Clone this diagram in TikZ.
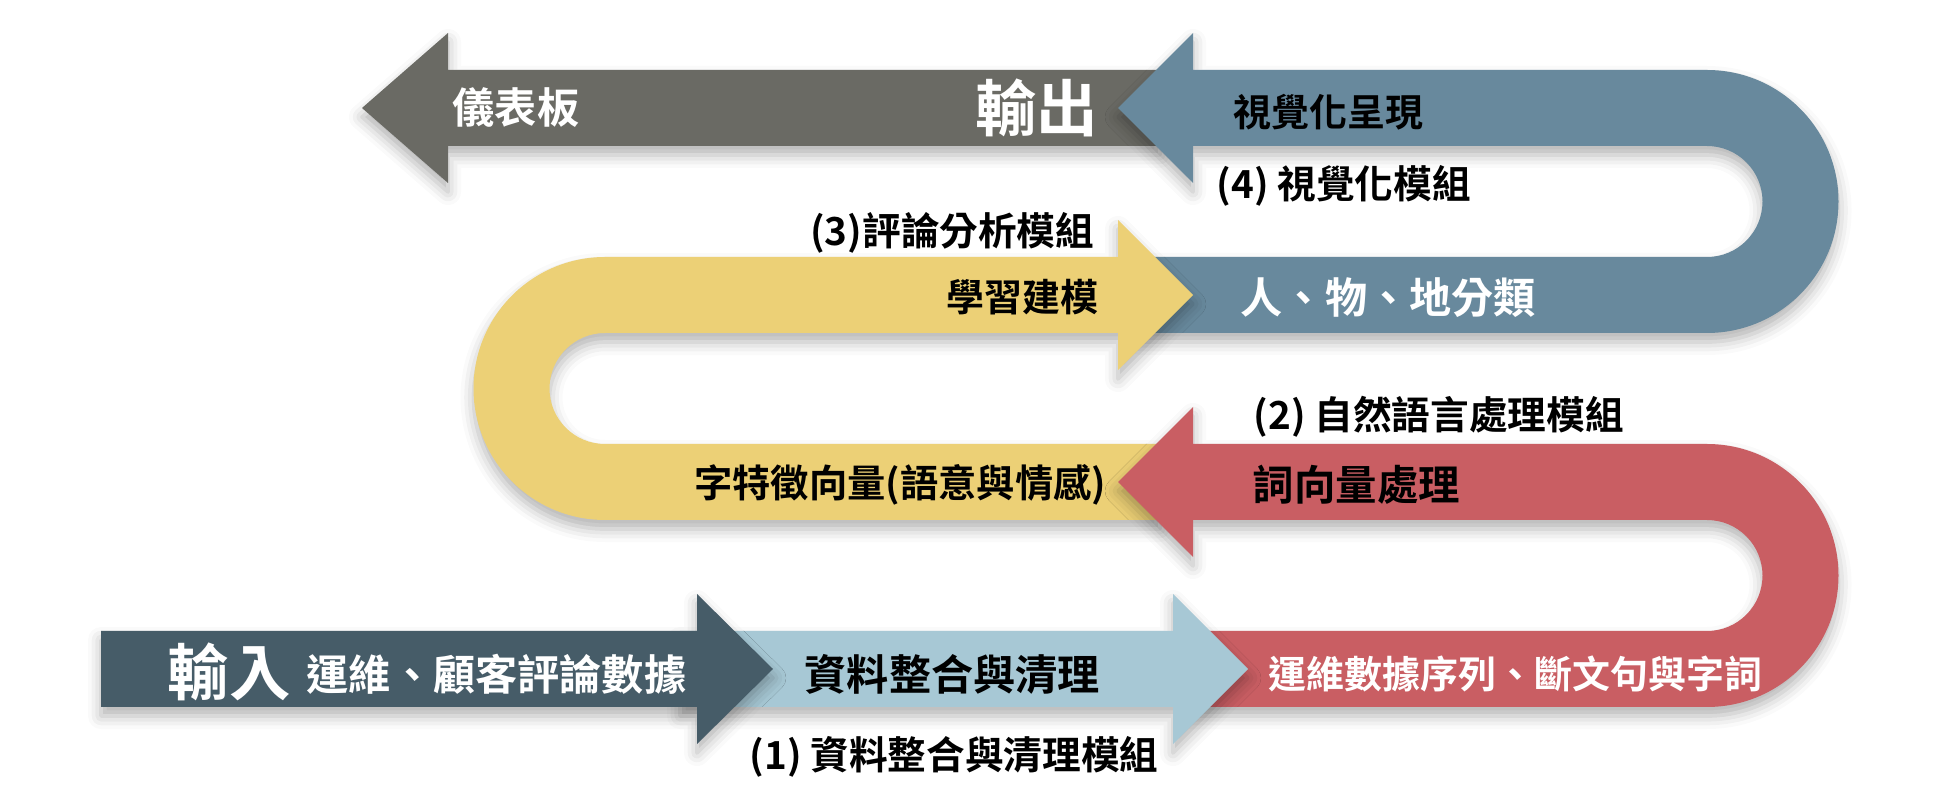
\documentclass[tikz,border=0pt]{standalone}
\usepackage{fontspec}
\newfontfamily\cjk{Noto Sans CJK TC}[BoldFont={Noto Sans CJK TC Bold}]
\usepackage{xcolor}
\usepackage{tikz}
\usetikzlibrary{shadows.blur}

\definecolor{outgray}{HTML}{6A6A64}
\definecolor{visblue}{HTML}{68899D}
\definecolor{anayellow}{HTML}{ECD076}
\definecolor{nlpred}{HTML}{C95E63}
\definecolor{cleanblue}{HTML}{A7C8D5}
\definecolor{inslate}{HTML}{465C68}

\newcommand{\fsz}[1]{\fontsize{#1}{#1}\selectfont}

\begin{document}
\begin{tikzpicture}[
                x=0.1mm, y=-0.1mm,
                band/.style={blur shadow={shadow xshift=0mm, shadow yshift=-0.9mm,
                    shadow blur radius=1.3mm, shadow opacity=30}},
                lbl/.style={inner sep=0pt, font=\cjk\bfseries\fsz{11pt}},
                lblw/.style={lbl, text=white},
                big/.style={inner sep=0pt, text=white, font=\cjk\bfseries\fsz{17.5pt}}
            ]
                \useasboundingbox (0,0) rectangle (1940,808);

                % output (dashboard)
                \fill[outgray, band] (362,108) -- (448,33) -- (448,70) -- (1160,70)
                    -- (1160,146) -- (448,146) -- (448,183) -- cycle;

                % (4) visualization
                \fill[visblue, band] (1118,108) -- (1193,33) -- (1193,70) -- (1707,70)
                    arc[start angle=90, end angle=-90, radius=13.15mm] -- (1140,333)
                    -- (1140,257) -- (1707,257)
                    arc[start angle=-90, end angle=90, radius=5.55mm] -- (1193,146)
                    -- (1193,183) -- cycle;

                % (3) analysis
                \fill[anayellow, band] (1193,295) -- (1118,220) -- (1118,257) -- (605,257)
                    arc[start angle=90, end angle=270, radius=13.15mm] -- (1160,520)
                    -- (1160,444) -- (605,444)
                    arc[start angle=270, end angle=90, radius=5.55mm] -- (1118,333)
                    -- (1118,370) -- cycle;

                % (2) nlp
                \fill[nlpred, band] (1118,482) -- (1193,407) -- (1193,444) -- (1707,444)
                    arc[start angle=90, end angle=-90, radius=13.15mm] -- (1190,707)
                    -- (1190,631) -- (1707,631)
                    arc[start angle=-90, end angle=90, radius=5.55mm] -- (1193,520)
                    -- (1193,557) -- cycle;

                % (1) cleaning
                \fill[cleanblue, band] (680,631) -- (1173,631) -- (1173,594) -- (1248,669)
                    -- (1173,744) -- (1173,707) -- (680,707) -- cycle;

                % input
                \fill[inslate, band] (101,631) -- (697,631) -- (697,594) -- (773,669)
                    -- (697,744) -- (697,707) -- (101,707) -- cycle;

                \node[lblw, anchor=west, font=\cjk\bfseries\fsz{12pt}] (dash) at (452,108) {儀表板};
                \node[big, anchor=east] (out) at (1099,108) {輸出};
                \node[lbl, anchor=west, font=\cjk\bfseries\fsz{10.8pt}] (visshow) at (1233,112) {視覺化呈現};
                \node[lbl, anchor=west] (mod4) at (1216,186) {(4) 視覺化模組};
                \node[lbl, anchor=east] (mod3) at (1095,233) {(3)評論分析模組};
                \node[lbl, anchor=east, font=\cjk\bfseries\fsz{10.8pt}] (learn) at (1099,297) {學習建模};
                \node[lblw, anchor=west, font=\cjk\bfseries\fsz{12pt}] (classify) at (1240,298) {人、物、地分類};
                \node[lbl, anchor=west] (mod2) at (1253,417) {(2) 自然語言處理模組};
                \node[lbl, anchor=west, font=\cjk\bfseries\fsz{11.8pt}] (wordvec) at (1252,485) {詞向量處理};
                \node[lbl, anchor=east, font=\cjk\bfseries\fsz{10.9pt}] (charvec) at (1107,485) {字特徵向量(語意與情感)};
                \node[big, anchor=west] (in) at (167,672) {輸入};
                \node[lblw, anchor=west, font=\cjk\bfseries\fsz{12pt}] (rawdata) at (306,674) {運維、顧客評論數據};
                \node[lbl, anchor=west, font=\cjk\bfseries\fsz{12pt}] (clean) at (804,674) {資料整合與清理};
                \node[lbl, anchor=west] (mod1) at (749,757) {(1) 資料整合與清理模組};
                \node[lblw, anchor=west, font=\cjk\bfseries\fsz{10.8pt}] (seq) at (1268,674) {運維數據序列、斷文句與字詞};
            \end{tikzpicture}
\end{document}
